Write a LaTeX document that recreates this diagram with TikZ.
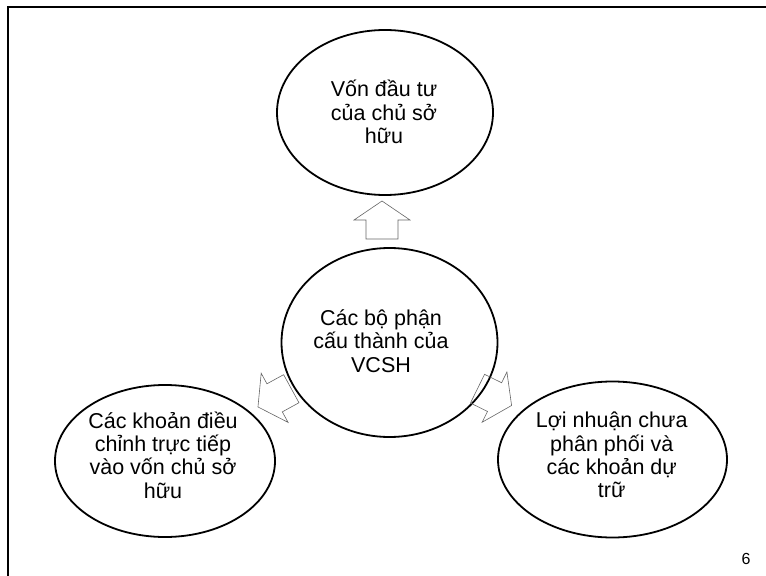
\documentclass[tikz,border=0pt]{standalone}
\usepackage{fontspec}
\setmainfont{Liberation Sans}
\usetikzlibrary{shapes.geometric}
\begin{document}
\begin{tikzpicture}[x=1bp,y=-1bp,
  bubble/.style={draw=black,line width=1.8bp,ellipse,inner sep=0pt},
  bubbletext/.style={align=center,inner sep=0pt,font=\fontsize{21.5bp}{23.3bp}\selectfont},
  arrowline/.style={draw=black!60,line width=0.6bp,line join=miter},
  blockarrow/.pic={\draw[arrowline] (0,-16) -- (19,-16) -- (19,-28) -- (38,0)
                     -- (19,28) -- (19,16) -- (0,16) -- cycle;}]
\useasboundingbox (0,0) rectangle (766,576);

% slide frame (only its top and left edges are in view)
\draw[line width=2bp] (8,576) -- (8,7) -- (766,7);

% ellipses
\node[bubble,minimum width=216bp,minimum height=165bp] (owner) at (385,112.5) {};
\node[bubble,minimum width=216bp,minimum height=189bp] (core) at (389.5,342.5) {};
\node[bubble,minimum width=220bp,minimum height=152bp] (adjust) at (165,461) {};
\node[bubble,minimum width=229bp,minimum height=156bp] (profit) at (612.5,459.5) {};

% texts
\node[bubbletext] (ownerT) at (384,112) {Vốn đầu tư\\của chủ sở\\hữu};
\node[bubbletext] (coreT) at (381,341) {Các bộ phận\\cấu thành của\\VCSH};
\node[bubbletext] (adjustT) at (163,455) {Các khoản điều\\chỉnh trực tiếp\\vào vốn chủ sở\\hữu};
\node[bubbletext] (profitT) at (611.7,455) {Lợi nhuận chưa\\phân phối và\\các khoản dự\\trữ};

% block arrows pointing outward from the centre
\pic[rotate=90] at (382,239) {blockarrow};
\pic[rotate=208.7] at (291.3,388.7) {blockarrow};
\pic[rotate=-26.2] at (477.5,388.7) {blockarrow};

% page number
\node[font=\fontsize{16bp}{19bp}\selectfont,inner sep=0pt] (pagenum) at (746,559) {6};
\end{tikzpicture}
\end{document}
